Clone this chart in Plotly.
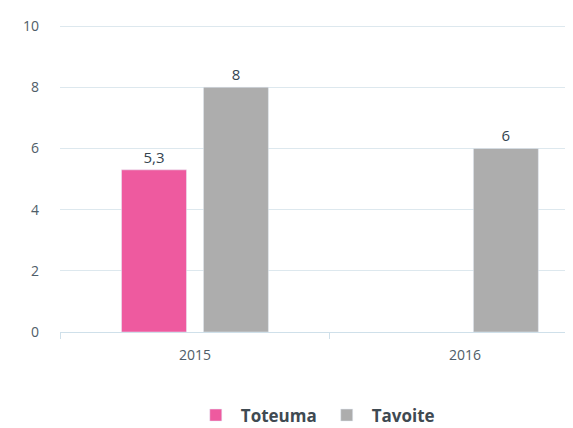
import plotly.graph_objects as go

years = ["2015", "2016"]
toteuma = [5.3, None]
tavoite = [8, 6]
toteuma_labels = ["5,3", ""]
tavoite_labels = ["8", "6"]

label_font = dict(color="#34444f", size=15)

fig = go.Figure()
fig.add_trace(go.Bar(
    x=years, y=toteuma, name="Toteuma", marker_color="#ee5a9f",
    text=toteuma_labels, textposition="outside", cliponaxis=False,
    textfont=label_font,
))
fig.add_trace(go.Bar(
    x=years, y=tavoite, name="Tavoite", marker_color="#adadad",
    text=tavoite_labels, textposition="outside", cliponaxis=False,
    textfont=label_font,
))

fig.update_layout(
    width=573, height=428,
    margin=dict(l=52, r=0, t=15, b=104),
    paper_bgcolor="white", plot_bgcolor="white",
    barmode="group", bargap=0.393, bargroupgap=0.207,
    font=dict(family="Open Sans", color="#4f5d68", size=14),
    showlegend=True,
    legend=dict(orientation="h", x=0.49, xanchor="center", y=-0.212, yanchor="top",
                font=dict(size=17, color="#3f4a52", weight="bold"), itemwidth=40),
)
fig.update_xaxes(
    type="category", range=[-0.5, 1.43],
    showgrid=False, showline=True, linecolor="#cfe0ea", linewidth=1,
    ticks="outside", tickson="boundaries", ticklen=6, tickcolor="#cfe0ea",
    tickfont=dict(size=14, color="#4f5d68"),
    ticklabelstandoff=10,
)
fig.update_yaxes(
    range=[0, 10.1], tickvals=[0, 2, 4, 6, 8, 10],
    showgrid=True, gridcolor="#dde8ee", gridwidth=1,
    zeroline=False, showline=False,
    tickfont=dict(size=14, color="#4f5d68"),
    ticklabelstandoff=20,
)

fig.write_html("out.html")
